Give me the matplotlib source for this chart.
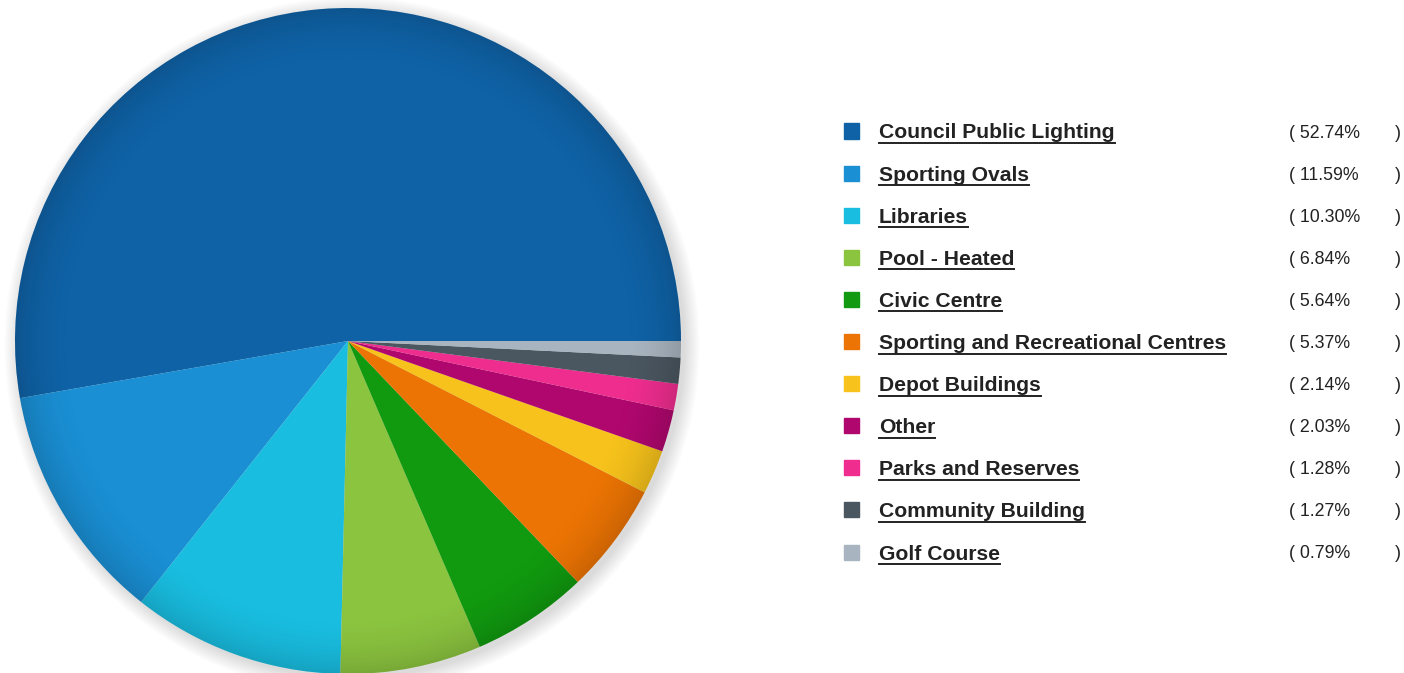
import numpy as np
import matplotlib
matplotlib.use("Agg")
import matplotlib.pyplot as plt
from matplotlib.patches import Circle

categories = [
    "Council Public Lighting", "Sporting Ovals", "Libraries", "Pool - Heated",
    "Civic Centre", "Sporting and Recreational Centres", "Depot Buildings",
    "Other", "Parks and Reserves", "Community Building", "Golf Course",
]
shares = [52.74, 11.59, 10.30, 6.84, 5.64, 5.37, 2.14, 2.03, 1.28, 1.27, 0.79]
colors = [
    "#0f62a6", "#1a8fd4", "#19bde0", "#8bc43f", "#119a0f", "#ec7404",
    "#f6c21b", "#b0076e", "#ef2d8f", "#4a5660", "#a8b4bf",
]

W, H = 1404, 673
fig = plt.figure(figsize=(W / 100, H / 100), dpi=100)
fig.patch.set_facecolor("white")

# pie axes placed in pixel terms; radius 1 in data maps to r pixels
cx, cy, r = 348, 341, 333
pad = 1.06
ax = fig.add_axes([(cx - r * pad) / W, (H - cy - r * pad) / H,
                   2 * r * pad / W, 2 * r * pad / H])

# soft drop shadow
for k in range(12):
    ax.add_patch(Circle((0.012, -0.012), 1.0 + 0.004 * k, color="black",
                        alpha=0.012, zorder=0, lw=0))

wedges, _ = ax.pie(shares, colors=colors, startangle=0, counterclock=True,
                   radius=1.0, wedgeprops=dict(linewidth=0))
for w in wedges:
    w.set_zorder(1)

# subtle darkening toward the rim
n = 600
xs = np.linspace(-1, 1, n)
X, Y = np.meshgrid(xs, xs)
R = np.sqrt(X ** 2 + Y ** 2)
alpha = np.clip((R - 0.82) / 0.18, 0, 1) ** 2 * 0.14
img = np.zeros((n, n, 4))
img[..., 3] = alpha
im = ax.imshow(img, extent=(-1, 1, -1, 1), origin="lower", zorder=2,
               interpolation="bilinear")
im.set_clip_path(Circle((0, 0), 1.0, transform=ax.transData))
ax.set_xlim(-pad, pad)
ax.set_ylim(-pad, pad)
ax.set_aspect("equal")
ax.axis("off")

# legend
row_y0, row_dy = 131, 42.1
marker_x, label_x, pct_x, close_x = 851, 879, 1289, 1395
text_color = "#222222"
fig.canvas.draw()
renderer = fig.canvas.get_renderer()
for i, (name, val, col) in enumerate(zip(categories, shares, colors)):
    y = row_y0 + i * row_dy
    fy = 1 - y / H
    sq = 15
    fig.patches.append(plt.Rectangle(((marker_x - sq / 2) / W, (H - y - sq / 2) / H),
                                     sq / W, sq / H, transform=fig.transFigure,
                                     color=col, figure=fig))
    t = fig.text(label_x / W, fy, name, fontsize=15.2, fontweight="bold",
                 family="Liberation Sans", color=text_color, va="center_baseline",
                 ha="left")
    bb = t.get_window_extent(renderer)
    uy = (bb.y0 - 0.5) / H
    fig.add_artist(plt.Line2D([bb.x0 / W, bb.x1 / W], [uy, uy],
                              transform=fig.transFigure, color=text_color, lw=1.4))
    fig.text(pct_x / W, fy, f"( {val:.2f}%", fontsize=12.8, family="Liberation Sans",
             color=text_color, va="center_baseline", ha="left")
    fig.text(close_x / W, fy, ")", fontsize=12.8, family="Liberation Sans",
             color=text_color, va="center_baseline", ha="left")

fig.savefig("out.png", dpi=100, facecolor="white")
